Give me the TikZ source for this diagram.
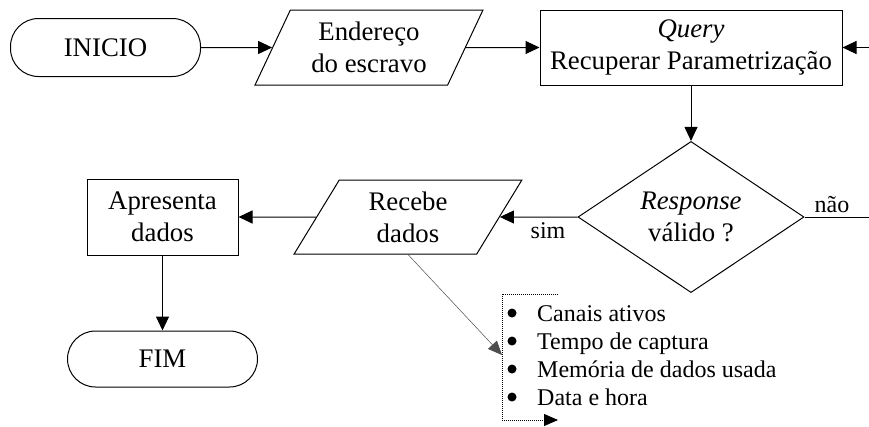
\documentclass[tikz,border=0pt]{standalone}
\usepackage{fontspec}
\setmainfont{Liberation Serif}
\usetikzlibrary{arrows.meta,shapes.geometric}
\begin{document}
\begin{tikzpicture}[x=1pt,y=-1pt,
 every node/.style={font=\fontsize{26.8}{32}\selectfont},
 line/.style={line width=1pt},
 arr/.style={line width=1pt,-{Triangle[length=14pt,width=13pt]}},
 thinarr/.style={line width=0.5pt,draw=black!70,-{Triangle[length=14pt,width=12pt]}},
 brk/.style={line width=0.8pt,dash pattern=on 1pt off 1pt,-{Triangle[length=14pt,width=12pt]}},
 term/.style={draw,line width=1pt,rounded corners=28pt,minimum height=58pt,minimum width=190pt,inner sep=0},
 proc/.style={draw,line width=1pt,rectangle,inner sep=2pt,align=center},
 io/.style={draw,line width=1pt,trapezium,trapezium left angle=63,trapezium right angle=117,trapezium stretches=true,minimum width=228pt,minimum height=75pt,inner sep=0,align=center},
 dec/.style={draw,line width=1pt,diamond,minimum width=226pt,minimum height=114pt,inner sep=0,align=center},
 lbl/.style={font=\fontsize{24}{28}\selectfont,inner sep=0,anchor=base},
 item/.style={font=\fontsize{24}{28}\selectfont,inner sep=0,anchor=base west},
 bul/.style={circle,fill,inner sep=0,minimum size=9pt}
]
\useasboundingbox (0,0) rectangle (869,426);
\node[term] (ini) at (105.5,47.5) {INICIO};
\node[io] (end) at (369,47.5) {Endereço\\do escravo};
\node[proc,minimum width=302pt,minimum height=75pt] (qry) at (691,47.5) {\textit{Query}\\Recuperar Parametrização};
\node[dec] (resp) at (691,217) {\textit{Response}\\válido ?};
\node[io,minimum height=74pt] (rec) at (408,217) {Recebe\\dados};
\node[proc,minimum width=151pt,minimum height=76pt] (apr) at (162.5,217) {Apresenta\\dados};
\node[term,minimum height=56pt] (fim) at (162.5,359) {FIM};
\coordinate (eR) at (869,47.5);
\coordinate (eN) at (869,217);
\draw[arr] (ini) -- (end);
\draw[arr] (end) -- (qry);
\draw[arr] (eR) -- (qry.east);
\draw[arr] (qry) -- (resp);
\draw[arr] (resp) -- (rec);
\draw[arr] (rec) -- (apr);
\draw[arr] (apr) -- (fim);
\draw[line] (resp.east) -- (eN);
\node[lbl] (sim) at (548,238) {sim};
\node[lbl] (nao) at (832,212) {não};
% list
\coordinate (lt) at (502,355);
\coordinate (br1) at (558,294);
\coordinate (br2) at (502,294);
\coordinate (br3) at (502,420);
\coordinate (br4) at (558,420);
\draw[thinarr] (rec.south) -- (lt);
\draw[brk] (br1) -- (br2) -- (br3) -- (br4);
\node[bul] (b1) at (512,313) {};
\node[bul] (b2) at (512,341) {};
\node[bul] (b3) at (512,369) {};
\node[bul] (b4) at (512,397) {};
\node[item] (i1) at (537,321) {Canais ativos};
\node[item] (i2) at (537,349) {Tempo de captura};
\node[item] (i3) at (537,377) {Memória de dados usada};
\node[item] (i4) at (537,405) {Data e hora};
\end{tikzpicture}
\end{document}
